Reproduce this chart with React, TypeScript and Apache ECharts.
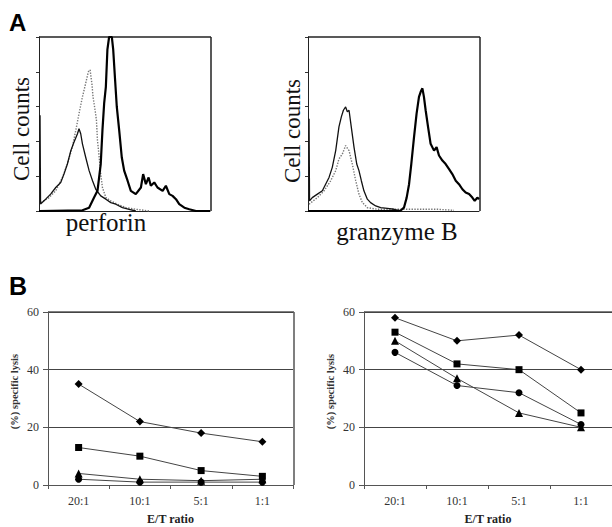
import React, { useEffect, useRef } from "react";
import * as echarts from "echarts";

// ---- Panel A: flow cytometry histograms (x: fluorescence channel %, y: relative count %) ----
const perforinThick: number[][] = [
  [0, 0], [25.4, 0.4], [29.3, 1.9], [32.2, 7.7], [34.2, 11.6], [36.1, 27], [37.1, 46.3], [38.1, 61.8],
  [39.1, 71.4], [40.0, 92.7], [41.0, 100], [42.6, 100], [43.4, 92.7], [44.5, 75.3], [45.5, 59.8],
  [46.9, 46.3], [48.4, 30.9], [49.8, 23.2], [51.8, 17.4], [53.7, 11.6], [56.6, 9.7], [59.6, 13.5],
  [60.9, 21.2], [62.5, 15.4], [64.1, 19.3], [65.4, 14.5], [67.4, 16.4], [69.3, 13.5], [72.3, 11.6],
  [74.2, 14.5], [76.2, 9.7], [78.1, 8.7], [80.1, 6.8], [82.0, 3.9], [85.0, 1.9], [87.9, 1.0],
  [91.8, 0], [100, 0],
];
const perforinThin: number[][] = [
  [0.6, 55], [0.9, 4], [1.0, 3.9], [3.9, 6.8], [6.8, 9.7], [9.8, 13.5], [12.7, 16.4], [14.6, 21.2],
  [16.6, 27], [18.6, 34.7], [20.5, 39.6], [22.5, 44.4], [23.4, 47.3], [24.4, 44.4], [25.4, 38.6],
  [27.3, 30.9], [29.3, 23.2], [31.3, 17.4], [33.2, 12.5], [36.1, 8.7], [39.1, 6.8], [42.0, 4.8],
  [44.9, 3.9], [48.8, 1.9], [52.7, 1.0], [56.6, 0],
];
const perforinDotted: number[][] = [
  [1.0, 4.8], [5.9, 7.7], [9.8, 11.6], [13.7, 19.3], [16.6, 27], [19.5, 36.7], [21.5, 46.3],
  [23.4, 56], [25.4, 65.6], [27.3, 73.4], [28.9, 80.1], [29.9, 81.1], [30.9, 73.4], [31.6, 65.6],
  [32.8, 57.9], [33.6, 52.1], [34.2, 40.5], [35.2, 30.9], [36.1, 21.2], [37.1, 13.5], [39.1, 7.7],
  [42.0, 5.8], [45.9, 3.9], [50.8, 1.9], [56.6, 1.0], [64.5, 0],
];
const granzymeThick: number[][] = [
  [0, 0], [52.2, 0], [54.2, 0.3], [56.1, 1.9], [57.7, 7.7], [59.1, 15.4], [60.4, 27], [62.0, 42.5],
  [63.5, 56], [64.9, 65.6], [65.9, 68.5], [66.9, 70.5], [67.8, 65.6], [68.8, 57.9], [70.2, 48.3],
  [71.7, 38.6], [73.7, 34.7], [75.2, 36.7], [76.6, 31.9], [78.6, 29], [80.5, 27], [82.5, 24.1],
  [84.4, 21.2], [86.4, 17.4], [88.3, 15.4], [90.3, 12.5], [92.2, 10.6], [94.2, 9.7], [96.1, 7.7],
  [97.5, 5.8], [99.0, 7.7], [100, 6.8],
];
const granzymeThin: number[][] = [
  [0.6, 53], [0.9, 5.8], [2.5, 7.7], [5.5, 9.7], [8.4, 11.6], [10.3, 15.4], [12.3, 19.3], [14.2, 25.1],
  [16.2, 34.7], [18.1, 48.3], [19.5, 54.1], [20.7, 57.9], [22.0, 59.8], [23.0, 57], [24.0, 57.9],
  [25.3, 48.3], [26.9, 36.7], [28.5, 27], [29.8, 23.2], [31.2, 17.4], [32.7, 11.6], [34.7, 6.8],
  [36.6, 4.8], [39.6, 2.9], [42.5, 1.9], [46.4, 1.5], [50.3, 1.0], [54.2, 0],
];
const granzymeDotted: number[][] = [
  [0.6, 3.9], [5.5, 7.7], [9.4, 11.6], [13.3, 17.4], [16.2, 23.2], [18.1, 29.9], [20.1, 32.8],
  [22.0, 37.6], [24.0, 34.7], [25.9, 27], [27.9, 17.4], [29.8, 9.7], [31.8, 4.8], [34.7, 1.9],
  [40.5, 1.0], [56.1, 1.0], [75.6, 1.0], [85.4, 0.4],
];

// ---- Panel B: % specific lysis vs E/T ratio ----
const ratios = ["20:1", "10:1", "5:1", "1:1"];
const leftDiamond = [35, 22, 18, 15];
const leftSquare = [13, 10, 5, 3];
const leftTriangle = [4, 2, 1.5, 2];
const leftCircle = [2, 1, 1, 1];
const rightDiamond = [58, 50, 52, 40];
const rightSquare = [53, 42, 40, 25];
const rightTriangle = [50, 37, 25, 20];
const rightCircle = [46, 34.5, 32, 21];
const lysisTicks = [0, 20, 40, 60];

const SERIF = "'Liberation Serif', 'DejaVu Serif', serif";
const SANS = "'Liberation Sans', Arial, sans-serif";

// plot-area layout (pixels)
const GRIDS = [
  { left: 39, top: 37, width: 171, height: 174, border: "#222" },
  { left: 308, top: 37, width: 171, height: 174, border: "#222" },
  { left: 48, top: 312, width: 245, height: 173, border: "#555" },
  { left: 364, top: 312, width: 254, height: 173, border: "#555" },
];

export default function App() {
  const ref = useRef<HTMLDivElement>(null);

  useEffect(() => {
    if (!ref.current) return;
    const chart = echarts.init(ref.current, null, { renderer: "svg" });

    const histX = (gi: number) => ({
      type: "value" as const,
      gridIndex: gi,
      min: 0,
      max: 100,
      axisLine: { show: true, onZero: false, lineStyle: { color: "#222", width: 1 } },
      axisTick: { show: false },
      axisLabel: { show: false },
      splitLine: { show: false },
    });
    const histY = (gi: number) => ({
      type: "value" as const,
      gridIndex: gi,
      min: 0,
      max: 100,
      interval: 20,
      axisLine: { show: true, onZero: false, lineStyle: { color: "#222", width: 1 } },
      axisTick: { show: true, inside: false, length: 3, lineStyle: { color: "#333" } },
      axisLabel: { show: false },
      splitLine: { show: false },
    });
    const catX = (gi: number) => ({
      type: "category" as const,
      gridIndex: gi,
      data: ratios,
      boundaryGap: true,
      name: "E/T ratio",
      nameLocation: "middle" as const,
      nameGap: 28,
      nameTextStyle: { fontFamily: SERIF, fontWeight: "bold" as const, fontSize: 12, color: "#222" },
      axisLine: { show: true, onZero: false, lineStyle: { color: "#555", width: 1 } },
      axisTick: { show: true, length: 4, alignWithLabel: false, lineStyle: { color: "#555" } },
      axisLabel: { fontFamily: SERIF, fontSize: 12, color: "#333", margin: 10 },
      splitLine: { show: false },
    });
    const lysY = (gi: number) => ({
      type: "value" as const,
      gridIndex: gi,
      min: lysisTicks[0],
      max: lysisTicks[lysisTicks.length - 1],
      interval: 20,
      name: "(%) specific lysis",
      nameLocation: "middle" as const,
      nameGap: 28,
      nameRotate: 90,
      nameTextStyle: { fontFamily: SERIF, fontWeight: "bold" as const, fontSize: 10.5, color: "#333", padding: [0, 0, 0, 14] },
      axisLine: { show: true, onZero: false, lineStyle: { color: "#555", width: 1 } },
      axisTick: { show: true, length: 5, lineStyle: { color: "#555" } },
      axisLabel: { fontFamily: SERIF, fontSize: 12, color: "#333", margin: 9 },
      splitLine: { show: true, lineStyle: { color: "#444", width: 1 } },
    });

    const histLine = (gi: number, data: number[][], kind: "thick" | "thin" | "dotted") => ({
      type: "line" as const,
      xAxisIndex: gi,
      yAxisIndex: gi,
      data,
      showSymbol: false,
      symbol: "none",
      smooth: false,
      clip: true,
      lineStyle:
        kind === "thick"
          ? { color: "#000", width: 2.2 }
          : kind === "thin"
          ? { color: "#111", width: 1.3 }
          : { color: "#777", width: 1.4, type: "dotted" as const },
      z: kind === "thick" ? 4 : kind === "thin" ? 3 : 2,
    });

    const lysLine = (gi: number, data: number[], symbol: string, size: number) => ({
      type: "line" as const,
      xAxisIndex: gi,
      yAxisIndex: gi,
      data,
      symbol,
      symbolSize: size,
      showSymbol: true,
      lineStyle: { color: "#444", width: 1 },
      itemStyle: { color: "#000", borderWidth: 0 },
    });

    // top and right edges of each plot area (frame), from the layout constants
    const frames: any[] = [];
    GRIDS.forEach((g) => {
      frames.push({
        type: "line",
        shape: { x1: g.left, y1: g.top, x2: g.left + g.width + 1, y2: g.top },
        style: { stroke: g.border, lineWidth: 1.5 },
      });
      frames.push({
        type: "line",
        shape: { x1: g.left + g.width + 1, y1: g.top, x2: g.left + g.width + 1, y2: g.top + g.height },
        style: { stroke: g.border, lineWidth: 1.5 },
      });
    });

    chart.setOption({
      animation: false,
      backgroundColor: "#fff",
      textStyle: { color: "#333", fontFamily: SERIF },
      grid: GRIDS.map((g) => ({ left: g.left, top: g.top, width: g.width, height: g.height })),
      xAxis: [histX(0), histX(1), catX(2), catX(3)],
      yAxis: [histY(0), histY(1), lysY(2), lysY(3)],
      series: [
        histLine(0, perforinDotted, "dotted"),
        histLine(0, perforinThin, "thin"),
        histLine(0, perforinThick, "thick"),
        histLine(1, granzymeDotted, "dotted"),
        histLine(1, granzymeThin, "thin"),
        histLine(1, granzymeThick, "thick"),
        lysLine(2, leftDiamond, "diamond", 8),
        lysLine(2, leftSquare, "rect", 7),
        lysLine(2, leftTriangle, "triangle", 8),
        lysLine(2, leftCircle, "circle", 7),
        lysLine(3, rightDiamond, "diamond", 8),
        lysLine(3, rightSquare, "rect", 7),
        lysLine(3, rightTriangle, "triangle", 8),
        lysLine(3, rightCircle, "circle", 7),
      ],
      graphic: [
        ...frames,
        { type: "text", left: 9, top: 10, style: { text: "A", fontFamily: SANS, fontWeight: "bold", fontSize: 24, fill: "#000" } },
        { type: "text", left: 9, top: 273, style: { text: "B", fontFamily: SANS, fontWeight: "bold", fontSize: 25, fill: "#000" } },
        {
          type: "text", x: 21, y: 129, rotation: Math.PI / 2,
          style: { text: "Cell counts", fontFamily: SERIF, fontSize: 23, fill: "#111", align: "center", verticalAlign: "middle" },
        },
        {
          type: "text", x: 292, y: 131, rotation: Math.PI / 2,
          style: { text: "Cell counts", fontFamily: SERIF, fontSize: 23, fill: "#111", align: "center", verticalAlign: "middle" },
        },
        {
          type: "text", x: 106, y: 210,
          style: { text: "perforin", fontFamily: SERIF, fontSize: 25, fill: "#111", align: "center", verticalAlign: "top" },
        },
        {
          type: "text", x: 397, y: 219,
          style: { text: "granzyme B", fontFamily: SERIF, fontSize: 25, fill: "#111", align: "center", verticalAlign: "top" },
        },
      ],
    });

    return () => chart.dispose();
  }, []);

  return (
    <div
      ref={ref}
      style={{ position: "fixed", left: 0, top: 0, width: 612, height: 527, background: "#fff" }}
    />
  );
}
